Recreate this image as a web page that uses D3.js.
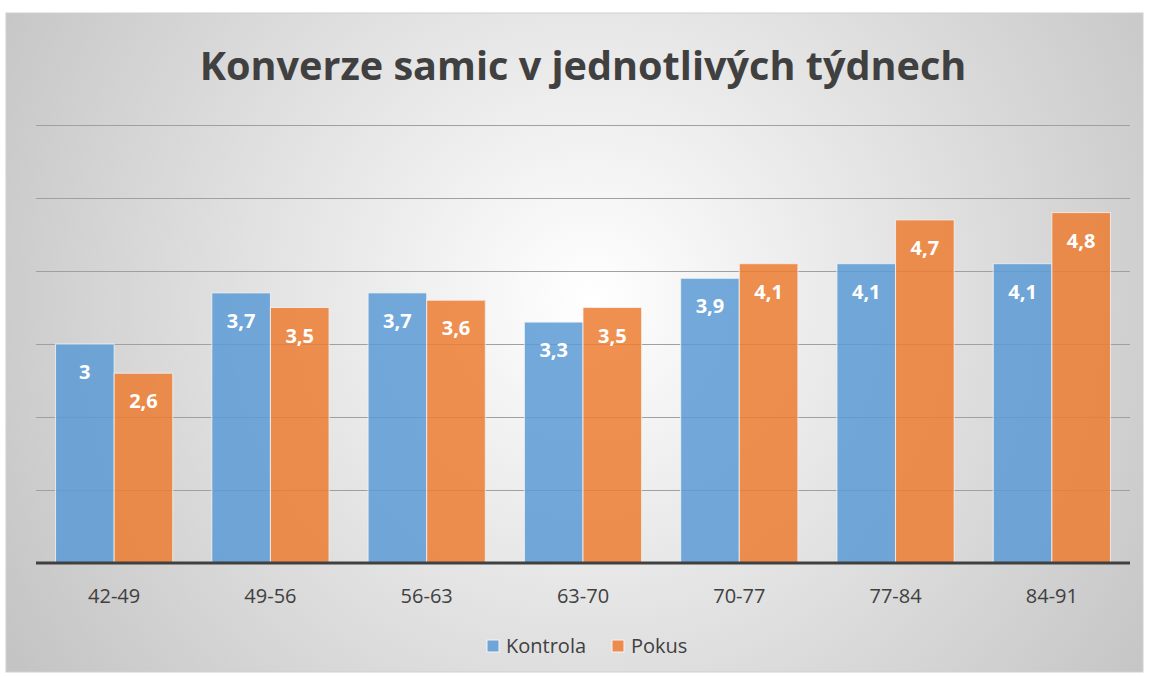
<!DOCTYPE html>
<html>
<head>
<meta charset="utf-8">
<script src="https://cdn.jsdelivr.net/npm/d3@7"></script>
<style>
  html, body { margin: 0; padding: 0; background: #fff; }
  svg { display: block; font-family: "Open Sans", "DejaVu Sans", sans-serif; }
</style>
</head>
<body>
<div id="chart"></div>
<script>
  const categories = ['42-49', '49-56', '56-63', '63-70', '70-77', '77-84', '84-91'];
  const seriesNames = ['Kontrola', 'Pokus'];
  const kontrola = [3, 3.7, 3.7, 3.3, 3.9, 4.1, 4.1];
  const pokus = [2.6, 3.5, 3.6, 3.5, 4.1, 4.7, 4.8];
  const yTicks = [0, 1, 2, 3, 4, 5, 6];
  const colors = ['#5B9BD5', '#ED7D31'];

  const W = 1149, H = 677;
  const frame = { x: 6, y: 13, w: 1137, h: 659 };
  const plot = { left: 36, right: 1130, top: 125, bottom: 563 };

  const cz = d3.formatLocale({ decimal: ',', thousands: ' ', grouping: [3], currency: ['', ' Kč'] });
  const fmt = cz.format('~g');

  const svg = d3.select('#chart').append('svg').attr('width', W).attr('height', H);

  // background
  const defs = svg.append('defs');
  const bg = defs.append('radialGradient').attr('id', 'bgGrad')
    .attr('gradientUnits', 'userSpaceOnUse')
    .attr('cx', 590).attr('cy', 300).attr('r', 680);
  bg.append('stop').attr('offset', '0%').attr('stop-color', '#ffffff');
  bg.append('stop').attr('offset', '100%').attr('stop-color', '#c4c4c4');

  svg.append('rect')
    .attr('x', frame.x).attr('y', frame.y).attr('width', frame.w).attr('height', frame.h)
    .attr('fill', 'url(#bgGrad)').attr('stroke', '#d0d0d0').attr('stroke-width', 1);

  // title
  const title = svg.append('text')
    .attr('x', 583).attr('y', 80).attr('text-anchor', 'middle')
    .attr('font-size', 40).attr('font-weight', 700).attr('fill', '#404040')
    .text('Konverze samic v jednotlivých týdnech');
  const tw = title.node().getComputedTextLength();
  title.attr('font-size', 40 * 767 / tw);

  // scales
  const x0 = d3.scaleBand().domain(categories).range([plot.left, plot.right]).paddingInner(0.25).paddingOuter(0.125);
  const x1 = d3.scaleBand().domain(seriesNames).range([0, x0.bandwidth()]).padding(0);
  const y = d3.scaleLinear().domain([0, 6]).range([plot.bottom, plot.top]);

  // gridlines
  svg.append('g').selectAll('line').data(yTicks.filter(d => d > 0)).join('line')
    .attr('x1', plot.left).attr('x2', plot.right)
    .attr('y1', d => y(d)).attr('y2', d => y(d))
    .attr('stroke', '#a0a0a0').attr('stroke-width', 1).attr('shape-rendering', 'crispEdges');

  // bars
  const rows = categories.map((c, i) => ({ cat: c, vals: [kontrola[i], pokus[i]] }));
  const groups = svg.append('g').selectAll('g').data(rows).join('g')
    .attr('transform', d => `translate(${x0(d.cat)},0)`);

  groups.selectAll('rect').data(d => d.vals.map((v, j) => ({ v, s: seriesNames[j], j }))).join('rect')
    .attr('x', d => x1(d.s)).attr('width', x1.bandwidth())
    .attr('y', d => y(d.v)).attr('height', d => y(0) - y(d.v))
    .attr('fill', d => colors[d.j]).attr('fill-opacity', 0.85)
    .attr('stroke', '#f4f4f4').attr('stroke-opacity', 0.8).attr('stroke-width', 1);

  groups.selectAll('text').data(d => d.vals.map((v, j) => ({ v, s: seriesNames[j], j }))).join('text')
    .attr('x', d => x1(d.s) + x1.bandwidth() / 2)
    .attr('y', d => y(d.v) + 35)
    .attr('text-anchor', 'middle')
    .attr('font-size', 20).attr('font-weight', 700).attr('fill', '#ffffff')
    .text(d => fmt(d.v));

  // axis
  const xAxis = svg.append('g').attr('transform', `translate(0,${plot.bottom})`)
    .call(d3.axisBottom(x0).tickSize(0).tickPadding(26));
  xAxis.select('.domain').remove();
  xAxis.selectAll('text').attr('font-size', 20).attr('fill', '#404040')
    .attr('font-family', '"Open Sans", sans-serif');

  svg.append('line')
    .attr('x1', plot.left).attr('x2', plot.right)
    .attr('y1', plot.bottom).attr('y2', plot.bottom)
    .attr('stroke', '#404040').attr('stroke-width', 3);

  // legend
  const legend = svg.append('g');
  const legendItems = [{ name: seriesNames[0], x: 487 }, { name: seriesNames[1], x: 612 }];
  legendItems.forEach((d, i) => {
    legend.append('rect').attr('x', d.x).attr('y', 640).attr('width', 12).attr('height', 12)
      .attr('fill', colors[i]).attr('fill-opacity', 0.85).attr('stroke', '#f4f4f4').attr('stroke-width', 1);
    legend.append('text').attr('x', d.x + 19).attr('y', 653)
      .attr('font-size', 20).attr('fill', '#404040').text(d.name);
  });
</script>
</body>
</html>
